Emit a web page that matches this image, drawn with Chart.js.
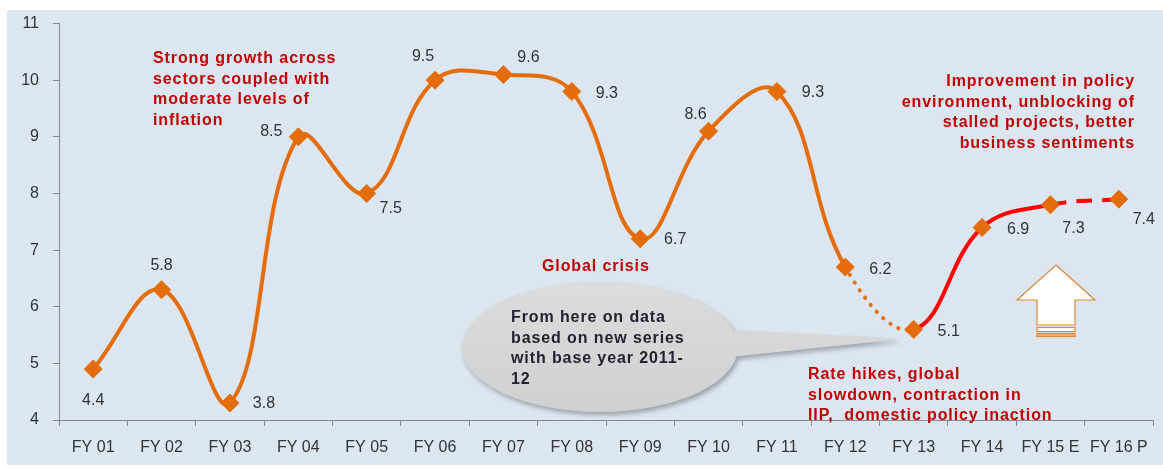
<!DOCTYPE html>
<html>
<head>
<meta charset="utf-8">
<script src="https://cdn.jsdelivr.net/npm/chart.js@4.4.1/dist/chart.umd.min.js"></script>
<style>
  html, body { margin: 0; padding: 0; background: #fff; }
  #wrap { width: 1163px; height: 468px; }
</style>
</head>
<body>
<div id="wrap"><canvas id="myChart" width="1163" height="468"></canvas></div>
<script>
// fiscal years on the x axis
const YEARS = ['FY 01', 'FY 02', 'FY 03', 'FY 04', 'FY 05', 'FY 06', 'FY 07', 'FY 08',
               'FY 09', 'FY 10', 'FY 11', 'FY 12', 'FY 13', 'FY 14', 'FY 15 E', 'FY 16 P'];
// where each marker sits against the y axis (as drawn in the original)
const GROWTH_PLOT = [4.9, 6.3, 4.3, 9.0, 8.0, 10.0, 10.1, 9.8, 7.2, 9.1, 9.8, 6.7, 5.6, 7.4, 7.8, 7.9];
// growth numbers printed next to the markers
const GROWTH_TEXT = ['4.4', '5.8', '3.8', '8.5', '7.5', '9.5', '9.6', '9.3',
                     '6.7', '8.6', '9.3', '6.2', '5.1', '6.9', '7.3', '7.4'];
// y axis range
const Y_MIN = 4;
const Y_MAX = 11;

const ORANGE = '#E46C0A';
const RED = '#FF0000';
const NOTE_RED = '#C00000';
const FONT = '"Liberation Sans", Arial, sans-serif';

// light blue panel behind everything
const panelBg = {
    id: 'panelBg',
    beforeDraw(chart) {
        const ctx = chart.ctx;
        ctx.save();
        ctx.fillStyle = '#ffffff';
        ctx.fillRect(0, 0, chart.width, chart.height);
        ctx.fillStyle = '#DCE6F1';
        ctx.fillRect(7, 10, chart.width - 7, 455);
        ctx.restore();
    }
};

// numbers next to the points, each one pushed to its own side
const pointLabels = {
    id: 'pointLabels',
    afterDatasetsDraw(chart, args, opts) {
        const ctx = chart.ctx;
        const meta = chart.getDatasetMeta(0);
        ctx.save();
        ctx.font = '16px ' + FONT;
        ctx.fillStyle = '#333333';
        ctx.textAlign = 'center';
        ctx.textBaseline = 'middle';
        meta.data.forEach((pt, i) => {
            const off = opts.offsets[i];
            ctx.fillText(GROWTH_TEXT[i], pt.x + off[0], pt.y + off[1]);
        });
        ctx.restore();
    }
};

function textLines(ctx, lines, x, y, lh) {
    lines.forEach((l, i) => ctx.fillText(l, x, y + i * lh));
}

// red notes, grey speech bubble and the up arrow
const notes = {
    id: 'notes',
    afterDraw(chart) {
        const ctx = chart.ctx;
        ctx.save();

        // speech bubble
        ctx.save();
        ctx.shadowColor = 'rgba(0,0,0,0.3)';
        ctx.shadowBlur = 5;
        ctx.shadowOffsetX = 2;
        ctx.shadowOffsetY = 3;
        const g = ctx.createLinearGradient(0, 282, 0, 413);
        g.addColorStop(0, '#DCDCDC');
        g.addColorStop(1, '#D0D0D0');
        ctx.fillStyle = g;
        ctx.beginPath();
        ctx.ellipse(600, 347, 138, 65, 0, 0, Math.PI * 2);
        ctx.moveTo(728, 330);
        ctx.lineTo(902, 339);
        ctx.lineTo(730, 357);
        ctx.closePath();
        ctx.fill();
        ctx.restore();

        ctx.font = 'bold 16px ' + FONT;
        ctx.letterSpacing = '0.9px';
        ctx.textBaseline = 'middle';
        ctx.fillStyle = '#222233';
        ctx.textAlign = 'left';
        textLines(ctx, ['From here on data', 'based on new series', 'with base year 2011-', '12'], 511, 318, 20.5);

        ctx.fillStyle = NOTE_RED;
        textLines(ctx, ['Strong growth across', 'sectors coupled with', 'moderate levels of', 'inflation'], 153, 59, 20.4);
        ctx.fillText('Global crisis', 542, 267);
        textLines(ctx, ['Rate hikes, global', 'slowdown, contraction in', 'IIP,  domestic policy inaction'], 808, 375, 20.3);
        ctx.textAlign = 'right';
        textLines(ctx, ['Improvement in policy', 'environment, unblocking of', 'stalled projects, better', 'business sentiments'], 1135, 82, 20.4);

        // up arrow
        ctx.letterSpacing = '0px';
        ctx.lineWidth = 1.2;
        ctx.strokeStyle = '#E0873A';
        ctx.fillStyle = '#ffffff';
        ctx.beginPath();
        ctx.moveTo(1056, 265);
        ctx.lineTo(1095, 300);
        ctx.lineTo(1075, 300);
        ctx.lineTo(1075, 325);
        ctx.lineTo(1037, 325);
        ctx.lineTo(1037, 300);
        ctx.lineTo(1017, 300);
        ctx.closePath();
        ctx.fill();
        ctx.stroke();
        ctx.fillRect(1037, 327.5, 38, 4);
        ctx.strokeRect(1037, 327.5, 38, 4);
        ctx.fillStyle = '#F2B27A';
        ctx.fillRect(1037, 333.5, 38, 3);
        ctx.strokeRect(1037, 333.5, 38, 3);

        ctx.restore();
    }
};

const data = {
    labels: YEARS,
    datasets: [{
        label: 'GDP growth',
        data: GROWTH_PLOT,
        borderColor: ORANGE,
        borderWidth: 4,
        tension: 0.4,
        pointStyle: 'rectRot',
        pointRadius: 9,
        pointBorderWidth: 1,
        pointBackgroundColor: ORANGE,
        pointBorderColor: ORANGE,
        segment: {
            // FY12 -> FY13 dotted, after FY13 red, last step dashed
            borderColor: ctx => ctx.p0DataIndex >= 12 ? RED : ORANGE,
            borderDash: ctx => ctx.p0DataIndex === 11 ? [0.1, 9] : (ctx.p0DataIndex === 14 ? [16, 10] : undefined),
            borderCapStyle: ctx => ctx.p0DataIndex === 11 ? 'round' : 'butt'
        }
    }]
};

const config = {
    type: 'line',
    data: data,
    options: {
        responsive: false,
        animation: false,
        devicePixelRatio: 1,
        layout: { padding: { top: 20, right: 6, left: 0, bottom: 0 } },
        plugins: {
            legend: { display: false },
            tooltip: { enabled: false },
            pointLabels: {
                offsets: [[0, 32], [0, -24], [34, 1], [-27, -5], [24, 15], [-12, -24], [25, -17], [35, 2],
                          [35, 1], [-13, -17], [36, 1], [35, 2], [35, 2], [36, 2], [23, 24], [25, 20]]
            }
        },
        scales: {
            x: {
                offset: true,
                grid: { offset: true, drawOnChartArea: false, drawTicks: true, tickLength: 6, color: '#888888' },
                border: { color: '#888888', width: 1 },
                ticks: { color: '#333333', font: { family: FONT, size: 16 }, padding: 12, maxRotation: 0, autoSkip: false },
                afterFit: s => { s.height = 48; }
            },
            y: {
                min: Y_MIN,
                max: Y_MAX,
                grid: { drawOnChartArea: false, drawTicks: true, tickLength: 6, color: '#888888' },
                border: { color: '#888888', width: 1 },
                ticks: { stepSize: 1, color: '#333333', font: { family: FONT, size: 16 }, padding: 14 },
                afterFit: s => { s.width = 59; }
            }
        }
    },
    plugins: [panelBg, pointLabels, notes]
};

const myChart = new Chart(document.getElementById('myChart'), config);
</script>
</body>
</html>
